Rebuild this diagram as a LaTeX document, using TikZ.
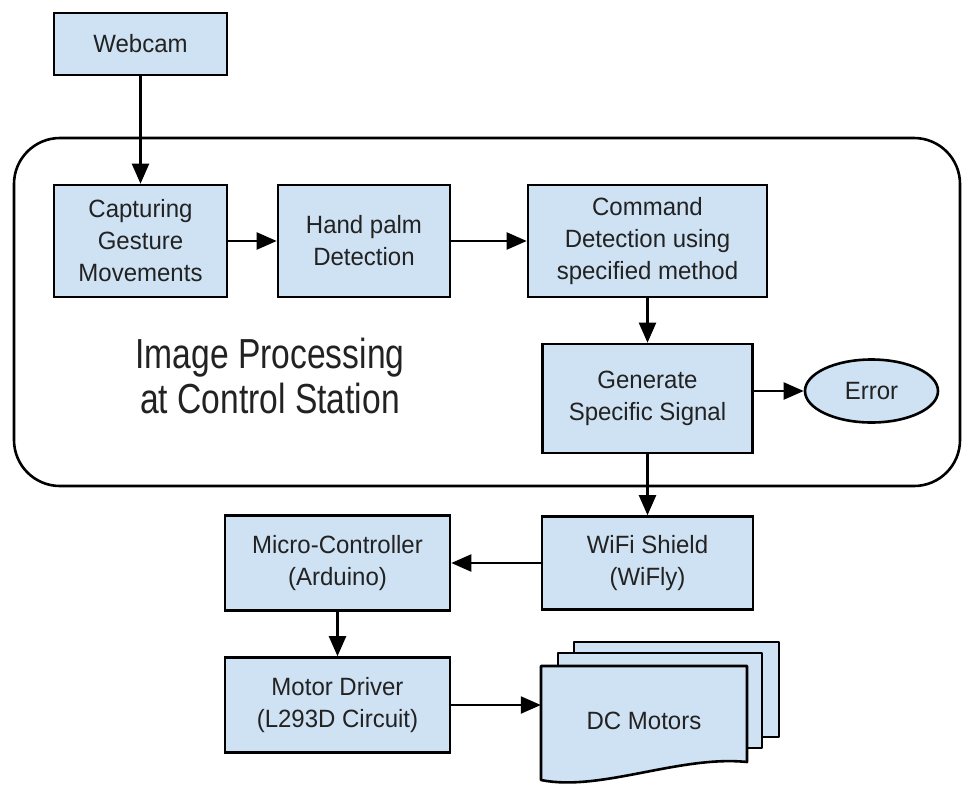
\documentclass[tikz,border=0pt]{standalone}
\usepackage{fontspec}
\setmainfont[FakeStretch=0.96]{Liberation Sans}
\newfontfamily\stationfont[FakeStretch=0.8]{Liberation Sans}
\usetikzlibrary{arrows.meta,shapes.geometric}

\definecolor{BoxFill}{HTML}{CFE2F3}
\definecolor{Ink}{HTML}{222222}

\tikzset{
  blockbox/.style={draw=black, line width=2.6pt, fill=BoxFill, text=Ink,
    align=center, inner sep=0pt, font=\fontsize{25}{32}\selectfont},
  flow/.style={line width=2.2pt, -{Triangle[length=20pt,width=17pt]}},
  sheet/.style={draw=black, line width=2.6pt, fill=BoxFill, line join=round},
}

\begin{document}
\begin{tikzpicture}[x=1pt, y=-1pt]

 \useasboundingbox (0,0) rectangle (963,785);

 %%%%%%%%%% Control station %%%%%%%%%%
 \node[draw=black, line width=2.6pt, rounded corners=46pt, minimum width=946pt,
   minimum height=348pt, inner sep=0pt] (station) at (487,312) {};
 \node[text=Ink, align=center, font=\stationfont\fontsize{42}{45}\selectfont] (stationlbl) at (270,376)
   {Image Processing\\at Control Station};

 %%%%%%%%%% Blocks %%%%%%%%%%
 \node[blockbox, minimum width=173pt, minimum height=62pt]  (webcam)  at (140.5,44)  {Webcam};
 \node[blockbox, minimum width=173pt, minimum height=112pt] (capture) at (140.5,241) {Capturing\\Gesture\\Movements};
 \node[blockbox, minimum width=172pt, minimum height=112pt] (palm)    at (364,241)   {Hand palm\\Detection};
 \node[blockbox, minimum width=239pt, minimum height=112pt] (command) at (647.5,241) {Command\\Detection using\\specified method};
 \node[blockbox, minimum width=210pt, minimum height=109pt] (signal)  at (647.5,398.5) {Generate\\Specific Signal};
 \node[blockbox, ellipse, minimum width=133pt, minimum height=63pt] (error) at (871.5,391) {Error};
 \node[blockbox, minimum width=211pt, minimum height=93pt]  (wifi)    at (647.5,563) {WiFi Shield\\(WiFly)};
 \node[blockbox, minimum width=225pt, minimum height=95pt]  (micro)   at (337.5,563) {Micro-Controller\\(Arduino)};
 \node[blockbox, minimum width=225pt, minimum height=95pt]  (driver)  at (337.5,705) {Motor Driver\\(L293D Circuit)};

 %%%%%%%%%% DC motors (stacked sheets) %%%%%%%%%%
 \draw[sheet] (574,642) rectangle (779,737);
 \draw[sheet] (558,653) rectangle (762,748);
 \draw[sheet] (541,666) -- (747,666) -- (747,762)
   .. controls (680,755) and (600,792) .. (541,780) -- cycle;
 \node[text=Ink, inner sep=0pt, minimum width=206pt, minimum height=96pt,
   font=\fontsize{25}{32}\selectfont] (motors) at (644,721) {DC Motors};

 %%%%%%%%%% Arrows %%%%%%%%%%
 \draw[flow] (webcam) -- (capture);
 \draw[flow] (capture) -- (palm);
 \draw[flow] (palm) -- (command);
 \draw[flow] (command) -- (signal);
 \draw[flow] (signal.east |- error) -- (error);
 \draw[flow] (signal) -- (wifi);
 \draw[flow] (wifi) -- (micro);
 \draw[flow] (micro) -- (driver);
 \draw[flow] (driver) -- (driver -| motors.west);

\end{tikzpicture}
\end{document}
